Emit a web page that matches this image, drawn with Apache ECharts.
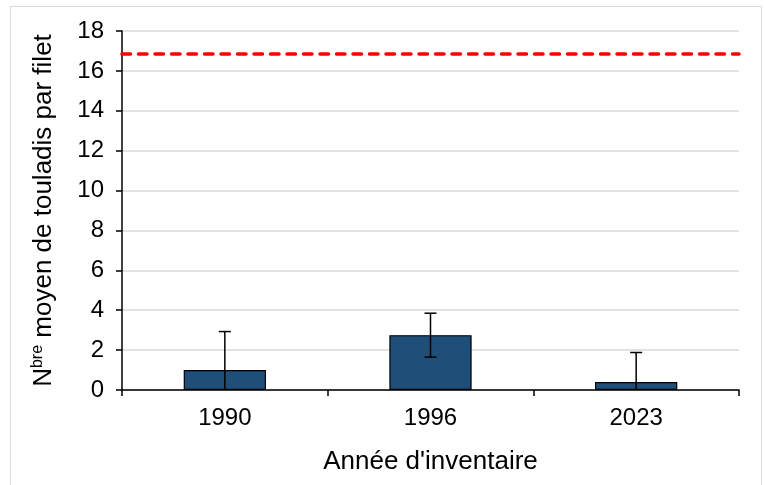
<!DOCTYPE html>
<html>
<head>
<meta charset="utf-8">
<script src="https://cdn.jsdelivr.net/npm/echarts@6/dist/echarts.min.js"></script>
<style>
  html, body { margin: 0; padding: 0; background: #fff; }
  #chart { width: 766px; height: 485px; }
</style>
</head>
<body>
<div id="chart"></div>
<script>
// données
const years = ['1990', '1996', '2023']
const means = [1.0, 2.75, 0.4]
const errors = [1.93, 1.1, 1.48]
const reference = 16.85

const chart = echarts.init(document.getElementById('chart'))

const errorData = years.map((y, i) => [i, means[i], errors[i]])
const font = 'Liberation Sans, Arial, sans-serif'

const option = {
  animation: false,
  textStyle: { fontFamily: font },
  graphic: [
    {
      type: 'rect',
      shape: { x: 10.5, y: 6.5, width: 751, height: 485 },
      style: { fill: 'none', stroke: '#d9d9d9', lineWidth: 1 },
      silent: true,
    },
  ],
  grid: { left: 122, right: 27, top: 31, bottom: 95 },
  xAxis: {
    type: 'category',
    data: years,
    name: "Année d'inventaire",
    nameLocation: 'middle',
    nameGap: 59,
    nameTextStyle: { color: '#000', fontSize: 26 },
    axisLine: { lineStyle: { color: '#000', width: 1.5 } },
    axisTick: { show: true, alignWithLabel: false, length: 6, lineStyle: { color: '#000', width: 1.5 } },
    axisLabel: { color: '#000', fontSize: 24, margin: 16 },
  },
  yAxis: {
    type: 'value',
    min: 0,
    max: 18,
    interval: 2,
    name: '{a|N}{s|bre}{a| moyen de touladis par filet}',
    nameLocation: 'middle',
    nameGap: 64,
    nameRotate: 90,
    nameTextStyle: {
      rich: {
        a: { fontSize: 26, color: '#000', fontFamily: font },
        s: { fontSize: 16, color: '#000', verticalAlign: 'top', padding: [0, 0, 12, 0], fontFamily: font },
      },
    },
    axisLine: { show: true, lineStyle: { color: '#000', width: 1.5 } },
    axisTick: { show: true, length: 6, lineStyle: { color: '#000', width: 1.5 } },
    axisLabel: { color: '#000', fontSize: 24, margin: 18 },
    splitLine: { lineStyle: { color: '#d9d9d9', width: 1.5 } },
  },
  series: [
    {
      type: 'bar',
      data: means,
      barWidth: '40%',
      itemStyle: { color: '#1f4e79', borderColor: '#000', borderWidth: 1.2 },
      markLine: {
        silent: true,
        symbol: 'none',
        label: { show: false },
        lineStyle: { color: '#ff0000', type: [8.5, 8], width: 3.5, cap: 'round' },
        data: [{ yAxis: reference }],
      },
    },
    {
      type: 'custom',
      data: errorData,
      z: 10,
      renderItem: function (params, api) {
        const i = api.value(0)
        const m = api.value(1)
        const e = api.value(2)
        const lowVal = Math.max(0, m - e)
        const top = api.coord([i, m + e])
        const low = api.coord([i, lowVal])
        const half = 6
        const style = { stroke: '#000', lineWidth: 1.5 }
        const children = [
          { type: 'line', shape: { x1: top[0], y1: top[1], x2: low[0], y2: low[1] }, style },
          { type: 'line', shape: { x1: top[0] - half, y1: top[1], x2: top[0] + half, y2: top[1] }, style },
        ]
        if (m - e > 0) {
          children.push({ type: 'line', shape: { x1: low[0] - half, y1: low[1], x2: low[0] + half, y2: low[1] }, style })
        }
        return { type: 'group', children }
      },
    },
  ],
}

chart.setOption(option)
</script>
</body>
</html>
